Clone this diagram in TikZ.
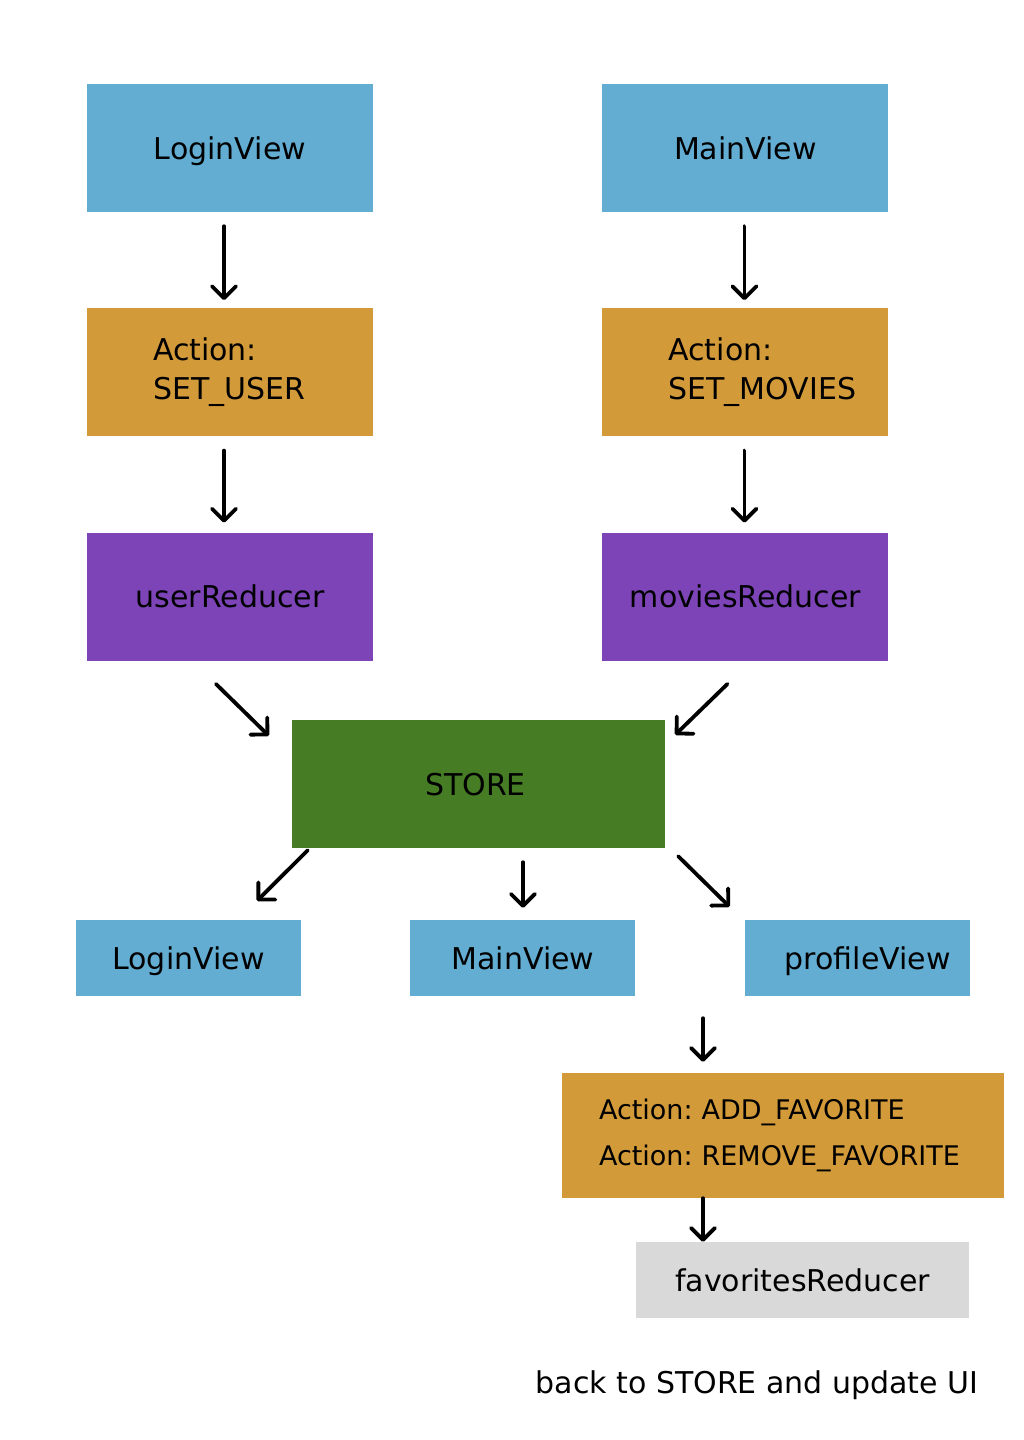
\documentclass[tikz,border=0pt]{standalone}
\usepackage{fontspec}
\setmainfont{DejaVu Sans}
\usepackage{xcolor}
\usepackage{tikz}
\usetikzlibrary{positioning, arrows.meta}

\definecolor{viewblue}{HTML}{63ADD3}
\definecolor{actorange}{HTML}{D39A3A}
\definecolor{redpurple}{HTML}{7D44B8}
\definecolor{storegreen}{HTML}{457C24}
\definecolor{favgray}{HTML}{D9D9D9}

\tikzset{
    oneline/.style={text height=22pt, text depth=0pt},
    bigbox/.style={minimum width=286pt, minimum height=128pt, inner sep=0pt, font={\fontsize{30}{39}\selectfont}},
    smallbox/.style={oneline, minimum width=225pt, minimum height=76pt, inner sep=0pt, font={\fontsize{30}{39}\selectfont}},
    flow/.style={-{Straight Barb[angle=90:17pt, round]}, line width=3.8pt, line cap=round, line join=round, black},
}

\begin{document}
\begin{tikzpicture}[x=1pt, y=1pt, node distance=96pt and 229pt]
    \useasboundingbox (0,0) rectangle (1024,-1440);

    % Upper flow
    \node (loginV) [bigbox, oneline, fill=viewblue] at (230,-148) {LoginView};
    \node (mainV) [bigbox, oneline, fill=viewblue, right=of loginV] {MainView};
    \node (actUser) [bigbox, fill=actorange, below=of loginV, text width=154pt, align=left] {Action:\\SET\_USER};
    \node (actMovies) [bigbox, fill=actorange, below=of mainV, text width=154pt, align=left] {Action:\\SET\_MOVIES};
    \node (userRed) [bigbox, oneline, fill=redpurple, below=of actUser] {userReducer};
    \node (moviesRed) [bigbox, oneline, fill=redpurple, below=of actMovies] {moviesReducer};

    % Store and views
    \node (store) [bigbox, oneline, fill=storegreen, minimum width=373pt] at (478.5,-784) {\hspace{-6pt}STORE};
    \node (loginB) [smallbox, fill=viewblue] at (188.5,-958) {LoginView};
    \node (mainB) [smallbox, fill=viewblue, right=109pt of loginB] {MainView};
    \node (profileB) [smallbox, fill=viewblue, right=109pt of mainB] {\hspace{21pt}profileView};

    % Favorites
    \node (actFav) [fill=actorange, minimum width=442pt, minimum height=125pt, inner sep=0pt, text width=368pt, align=left, font={\fontsize{27}{46}\selectfont\frenchspacing}] at (783,-1135.5) {Action: ADD\_FAVORITE\\Action: REMOVE\_FAVORITE};
    \node (favRed) [fill=favgray, oneline, minimum width=333pt, minimum height=76pt, inner sep=0pt, font={\fontsize{30}{39}\selectfont}] at (802.5,-1280) {favoritesReducer};
    \node (backNote) [oneline, font={\fontsize{30}{39}\selectfont}] at (757,-1382) {back to STORE and update UI};
    \coordinate (favIn) at ([xshift=-80pt]actFav.north);

    % Edges
    \draw[flow, shorten <=14pt, shorten >=8pt] ([xshift=-6pt]loginV.south) -- ([xshift=-6pt]actUser.north);
    \draw[flow, shorten <=14pt, shorten >=8pt] ([xshift=-1pt]mainV.south) -- ([xshift=-1pt]actMovies.north);
    \draw[flow, shorten <=14pt, shorten >=10pt] ([xshift=-6pt]actUser.south) -- ([xshift=-6pt]userRed.north);
    \draw[flow, shorten <=14pt, shorten >=10pt] ([xshift=-1pt]actMovies.south) -- ([xshift=-1pt]moviesRed.north);
    \draw[flow] ([shift={(-14pt,-23pt)}]userRed.south) -- ([shift={(-23pt,-16pt)}]store.north west);
    \draw[flow] ([shift={(-18pt,-23pt)}]moviesRed.south) -- ([shift={(10pt,-15pt)}]store.north east);
    \draw[flow] ([shift={(16pt,-2pt)}]store.south west) -- ([shift={(68.5pt,19pt)}]loginB.north);
    \draw[flow, shorten <=14pt, shorten >=12pt] (store.south -| mainB.north) -- (mainB.north);
    \draw[flow] ([shift={(13pt,-8pt)}]store.south east) -- ([shift={(-15pt,13pt)}]profileB.north west);
    \draw[flow, shorten <=22pt, shorten >=11pt] (favIn |- profileB.south) -- (favIn);
    \draw[flow] ([xshift=-80pt]actFav.south) -- ([xshift=-99.5pt]favRed.north);
\end{tikzpicture}
\end{document}
